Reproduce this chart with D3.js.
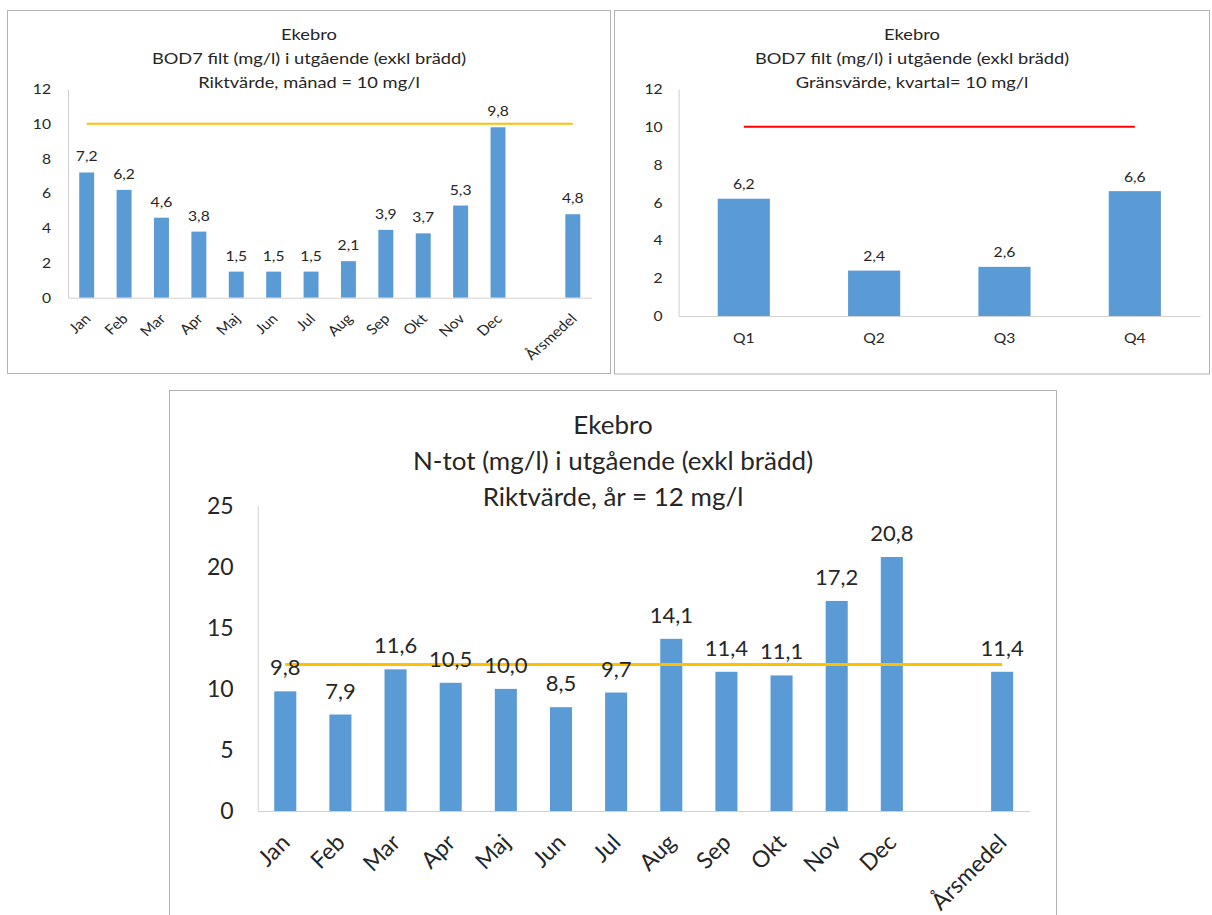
<!DOCTYPE html>
<html><head><meta charset="utf-8">
<script src="https://cdn.jsdelivr.net/npm/d3@7"></script>
<style>
body{margin:0;background:#fff}
svg{display:block}
text{font-family:Lato,"Open Sans",sans-serif;fill:#262626}
</style>
</head><body>
<svg id="c" width="1212" height="915"></svg>
<script>
// ---------- data ----------
const monthCategories = ["Jan","Feb","Mar","Apr","Maj","Jun","Jul","Aug","Sep","Okt","Nov","Dec","","Årsmedel"];
const bod7Monthly = [7.2,6.2,4.6,3.8,1.5,1.5,1.5,2.1,3.9,3.7,5.3,9.8,null,4.8];
const quarterCategories = ["Q1","Q2","Q3","Q4"];
const bod7Quarterly = [6.2,2.4,2.6,6.6];
const nTotMonthly = [9.8,7.9,11.6,10.5,10.0,8.5,9.7,14.1,11.4,11.1,17.2,20.8,null,11.4];
const bod7Ticks = [0,2,4,6,8,10,12];
const nTotTicks = [0,5,10,15,20,25];
const bod7MonthLimit = 10;
const bod7QuarterLimit = 10;
const nTotYearLimit = 12;
const titleMonthly = ["Ekebro","BOD7 filt (mg/l) i utgående (exkl brädd)","Riktvärde, månad = 10 mg/l"];
const titleQuarterly = ["Ekebro","BOD7 filt (mg/l) i utgående (exkl brädd)","Gränsvärde, kvartal= 10 mg/l"];
const titleNtot = ["Ekebro","N-tot (mg/l) i utgående (exkl brädd)","Riktvärde, år = 12 mg/l"];

// ---------- helpers ----------
const loc = d3.formatLocale({decimal:",",thousands:" ",grouping:[3],currency:["","kr"]});
const fmt1 = loc.format(".1f");
const svg = d3.select("#c");
const BAR = "#5B9BD5", AXIS = "#d0d0d0", BORDER = "#b3b3b3";

function addText(g, x, y, str, size, anchor, sx, rot){
  return g.append("text").attr("text-anchor",anchor)
    .attr("transform",`translate(${x},${y}) scale(${sx},1)` + (rot ? ` rotate(${rot})` : ""))
    .style("font-size",size+"px").text(str);
}

function drawChart(cfg){
  const g = svg.append("g");
  g.append("rect").attr("x",cfg.box[0]).attr("y",cfg.box[1])
    .attr("width",cfg.box[2]-cfg.box[0]).attr("height",cfg.box[3]-cfg.box[1])
    .attr("fill","#fff").attr("stroke",BORDER).attr("stroke-width",1);
  const cx = (cfg.box[0]+cfg.box[2])/2;
  cfg.title.forEach((t,i)=> addText(g, cx, cfg.titleY[i], t, cfg.titleSize, "middle", cfg.titleSx));
  const x = d3.scaleBand().domain(cfg.categories).range([cfg.plot.x0,cfg.plot.x1])
    .paddingInner(cfg.pad).paddingOuter(cfg.pad/2);
  const y = d3.scaleLinear().domain([0,cfg.ticks[cfg.ticks.length-1]]).range([cfg.plot.y0,cfg.plot.y1]);
  // y axis line + labels
  const ya = g.append("g").attr("transform",`translate(${cfg.plot.x0},0)`)
    .call(d3.axisLeft(y).tickValues(cfg.ticks).tickSize(0).tickFormat(""));
  ya.select(".domain").attr("stroke",AXIS);
  cfg.ticks.forEach(t => addText(g, cfg.plot.x0-cfg.yPad, y(t)+cfg.tickSize*0.36, String(t), cfg.tickSize, "end", cfg.sx));
  // bars
  const rows = cfg.categories.map((c,i)=>({c,v:cfg.values[i]})).filter(d=>d.v!=null);
  g.selectAll("rect.bar").data(rows).join("rect").attr("class","bar")
    .attr("x",d=>x(d.c)).attr("width",x.bandwidth())
    .attr("y",d=>y(d.v)).attr("height",d=>y(0)-y(d.v)).attr("fill",BAR);
  // x axis
  const xa = g.append("g").attr("transform",`translate(0,${cfg.plot.y0})`)
    .call(d3.axisBottom(x).tickSize(0).tickFormat(""));
  xa.select(".domain").attr("stroke",AXIS);
  // category labels
  rows.forEach(d=>{
    const px = x(d.c)+x.bandwidth()/2;
    if(cfg.rotate){
      addText(g, px+cfg.catDx, cfg.plot.y0+cfg.catDy, d.c, cfg.tickSize, "end", cfg.sx, -45);
    } else {
      addText(g, px, cfg.plot.y0+cfg.catDy, d.c, cfg.tickSize, "middle", cfg.sx);
    }
  });
  // limit line
  const first = cfg.categories[0], last = cfg.categories[cfg.categories.length-1];
  g.append("line").attr("x1",x(first)+x.bandwidth()/2).attr("x2",x(last)+x.bandwidth()/2)
    .attr("y1",y(cfg.limit)).attr("y2",y(cfg.limit))
    .attr("stroke",cfg.limitColor).attr("stroke-width",cfg.limitWidth);
  // data labels
  rows.forEach(d=> addText(g, x(d.c)+x.bandwidth()/2, y(d.v)-cfg.labelGap, fmt1(d.v), cfg.labelSize, "middle", cfg.sx));
}

drawChart({
  box:[7.5,10.5,610.5,373.5], title:titleMonthly, titleY:[40,64,88], titleSize:15.5, titleSx:1.18, sx:1.12,
  categories:monthCategories, values:bod7Monthly, ticks:bod7Ticks,
  plot:{x0:68,x1:591.5,y0:297.7,y1:89}, pad:0.6, yPad:17, tickSize:14, labelSize:14, labelGap:11,
  rotate:true, catDx:5, catDy:22, limit:bod7MonthLimit, limitColor:"#FFC000", limitWidth:2
});
drawChart({
  box:[614.5,10.5,1209.5,374], title:titleQuarterly, titleY:[40,64,88], titleSize:15.5, titleSx:1.18, sx:1.12,
  categories:quarterCategories, values:bod7Quarterly, ticks:bod7Ticks,
  plot:{x0:678.6,x1:1200,y0:316,y1:89}, pad:0.6, yPad:16, tickSize:14, labelSize:14, labelGap:9.5,
  rotate:false, catDy:27, limit:bod7QuarterLimit, limitColor:"#FF0000", limitWidth:2
});
drawChart({
  box:[169.5,390.5,1056.5,935], title:titleNtot, titleY:[434,470,506], titleSize:25.5, titleSx:1.02, sx:1,
  categories:monthCategories, values:nTotMonthly, ticks:nTotTicks,
  plot:{x0:257.7,x1:1029.7,y0:811,y1:505.7}, pad:0.6, yPad:24, tickSize:23, labelSize:22, labelGap:16,
  rotate:true, catDx:6, catDy:33, limit:nTotYearLimit, limitColor:"#FFC000", limitWidth:3
});
</script>
</body></html>
